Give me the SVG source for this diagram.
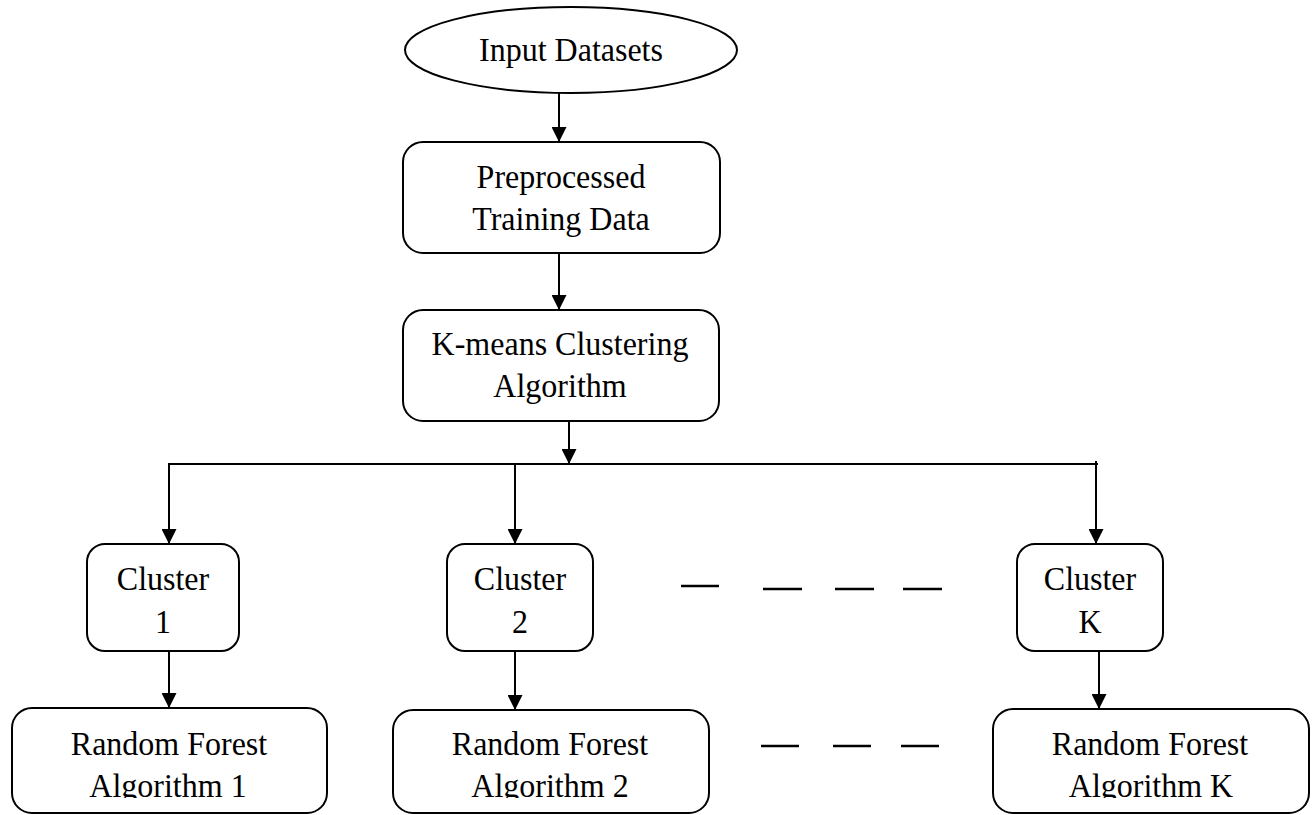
<svg xmlns="http://www.w3.org/2000/svg" width="1312" height="815" viewBox="0 0 1312 815">
  <style>
    .shape { fill: #ffffff; stroke: #000000; stroke-width: 2; }
    .label { font-family: "Liberation Serif", "Times New Roman", serif; font-size: 32px; fill: #000000; text-anchor: middle; }
    .wire { fill: none; stroke: #000000; stroke-width: 2; }
    .dash { stroke: #000000; stroke-width: 2.5; }
  </style>
  <defs>
    <marker id="arrow" markerWidth="15" markerHeight="15" refX="15" refY="7.5" orient="auto" markerUnits="userSpaceOnUse">
      <path d="M0,0 L15,7.5 L0,15 Z" fill="#000000"/>
    </marker>
    <clipPath id="bottomClip">
      <rect x="0" y="0" width="1312" height="798"/>
    </clipPath>
  </defs>
  <rect width="1312" height="815" fill="#ffffff"/>

  <!-- connectors -->
  <g id="connectors">
    <line class="wire" x1="559" y1="93" x2="559" y2="142" marker-end="url(#arrow)"/>
    <line class="wire" x1="559" y1="253" x2="559" y2="310" marker-end="url(#arrow)"/>
    <line class="wire" x1="569" y1="421" x2="569" y2="464" marker-end="url(#arrow)"/>
    <line class="wire" x1="169" y1="464" x2="1098" y2="464"/>
    <line class="wire" x1="169" y1="463" x2="169" y2="544" marker-end="url(#arrow)"/>
    <line class="wire" x1="515" y1="464" x2="515" y2="544" marker-end="url(#arrow)"/>
    <line class="wire" x1="1096" y1="461" x2="1096" y2="544" marker-end="url(#arrow)"/>
    <line class="wire" x1="169" y1="651" x2="169" y2="708" marker-end="url(#arrow)"/>
    <line class="wire" x1="515" y1="651" x2="515" y2="710" marker-end="url(#arrow)"/>
    <line class="wire" x1="1099" y1="651" x2="1099" y2="709" marker-end="url(#arrow)"/>
    <!-- ellipsis dashes between cluster columns -->
    <line class="dash" x1="681" y1="586" x2="719" y2="586" stroke-width="3"/>
    <line class="dash" x1="763" y1="589" x2="802" y2="589"/>
    <line class="dash" x1="835" y1="589" x2="874" y2="589"/>
    <line class="dash" x1="903" y1="589" x2="942" y2="589"/>
    <line class="dash" x1="761" y1="746" x2="799" y2="746" stroke-width="3"/>
    <line class="dash" x1="833" y1="746" x2="871" y2="746" stroke-width="3"/>
    <line class="dash" x1="901" y1="746" x2="939" y2="746" stroke-width="3"/>
  </g>

  <!-- labels are set slightly tall: translate to the baseline, then stretch vertically -->
  <g id="input-datasets">
    <ellipse class="shape" cx="571" cy="50" rx="166" ry="43"/>
    <text class="label" transform="translate(571 61) scale(1 1.08)">Input Datasets</text>
  </g>

  <g id="preprocessed">
    <rect class="shape" x="403" y="142" width="317" height="111" rx="20"/>
    <text class="label" transform="translate(561 188) scale(1 1.08)">Preprocessed</text>
    <text class="label" transform="translate(561 230) scale(1 1.08)">Training Data</text>
  </g>

  <g id="kmeans">
    <rect class="shape" x="403" y="310" width="316" height="111" rx="20"/>
    <text class="label" transform="translate(560 355) scale(1 1.08)">K-means Clustering</text>
    <text class="label" transform="translate(560 397) scale(1 1.08)">Algorithm</text>
  </g>

  <g id="cluster-1">
    <rect class="shape" x="87" y="544" width="152" height="107" rx="18"/>
    <text class="label" transform="translate(163 590) scale(1 1.08)">Cluster</text>
    <text class="label" transform="translate(163 633) scale(1 1.08)">1</text>
  </g>

  <g id="cluster-2">
    <rect class="shape" x="447" y="544" width="146" height="107" rx="18"/>
    <text class="label" transform="translate(520 590) scale(1 1.08)">Cluster</text>
    <text class="label" transform="translate(520 633) scale(1 1.08)">2</text>
  </g>

  <g id="cluster-k">
    <rect class="shape" x="1017" y="544" width="146" height="107" rx="18"/>
    <text class="label" transform="translate(1090 590) scale(1 1.08)">Cluster</text>
    <text class="label" transform="translate(1090 633) scale(1 1.08)">K</text>
  </g>

  <g id="random-forest-1">
    <rect class="shape" x="12" y="708" width="315" height="105" rx="20"/>
    <g clip-path="url(#bottomClip)">
      <text class="label" transform="translate(169 755) scale(1 1.08)">Random Forest</text>
      <text class="label" transform="translate(168 797) scale(1 1.08)">Algorithm 1</text>
    </g>
  </g>

  <g id="random-forest-2">
    <rect class="shape" x="393" y="710" width="316" height="103" rx="20"/>
    <g clip-path="url(#bottomClip)">
      <text class="label" transform="translate(550 755) scale(1 1.08)">Random Forest</text>
      <text class="label" transform="translate(550 797) scale(1 1.08)">Algorithm 2</text>
    </g>
  </g>

  <g id="random-forest-k">
    <rect class="shape" x="993" y="709" width="316" height="104" rx="20"/>
    <g clip-path="url(#bottomClip)">
      <text class="label" transform="translate(1150 755) scale(1 1.08)">Random Forest</text>
      <text class="label" transform="translate(1151 797) scale(1 1.08)">Algorithm K</text>
    </g>
  </g>
</svg>
